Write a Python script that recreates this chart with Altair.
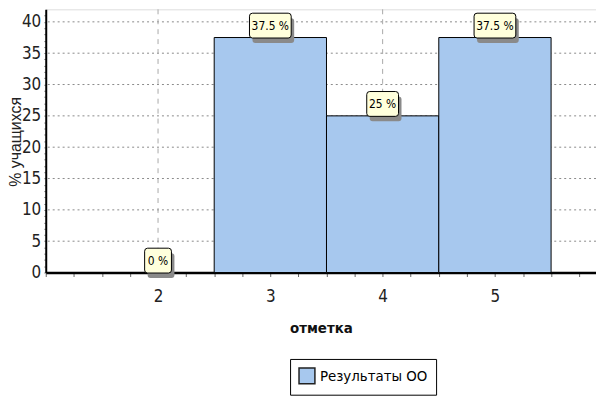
import altair as alt
import pandas as pd

# ---- data ----
marks = [2, 3, 4, 5]                 # отметка
percents = [0, 37.5, 25, 37.5]       # % учащихся
series_name = "Результаты ОО"
y_grid = [5, 10, 15, 20, 25, 30, 35, 40]
x_grid = [2, 4]

NARROW = "'Liberation Sans Narrow', 'Arial Narrow', 'DejaVu Sans Condensed', 'Roboto Condensed', 'Liberation Sans', sans-serif"
BOX_H = 25

def box_path(w, h=BOX_H, r=3):
    s = w / 2.0
    hx, hy = 1.0, h / w
    rx, ry = r / s, r / s
    return (f"M{-hx+rx},{-hy} L{hx-rx},{-hy} Q{hx},{-hy} {hx},{-hy+ry} "
            f"L{hx},{hy-ry} Q{hx},{hy} {hx-rx},{hy} L{-hx+rx},{hy} "
            f"Q{-hx},{hy} {-hx},{hy-ry} L{-hx},{-hy+ry} Q{-hx},{-hy} {-hx+rx},{-hy} Z")

labels = [f"{v:g} %" for v in percents]
widths = [5 * len(t) + 12 for t in labels]

df = pd.DataFrame({
    "mark": marks,
    "pct": percents,
    "label": labels,
    "series": [series_name] * len(marks),
    "path": [box_path(w) for w in widths],
    "sz": [w * w for w in widths],
})
df_gy = pd.DataFrame({"y": y_grid})
df_gx = pd.DataFrame({"x": x_grid})

xscale = alt.Scale(domain=[1, 5.9], nice=False, zero=False)
yscale = alt.Scale(domain=[0, 42], nice=False)

x_ticks = [1 + 0.25 * i for i in range(20)]
y_ticks = list(range(0, 42))

xaxis = alt.Axis(
    values=x_ticks,
    labelExpr="datum.value >= 2 && datum.value % 1 == 0 ? datum.value : ''",
    title="отметка", titleFont=NARROW, titleFontSize=15, titleFontWeight="bold",
    titleColor="#111", titlePadding=16,
    labelFont=NARROW, labelFontSize=17, labelColor="#222", labelPadding=12,
    labelOverlap=False, labelFlush=False,
    tickSize=4, tickColor="#666", domainColor="black", domainWidth=2.5, grid=False,
)
yaxis = alt.Axis(
    values=y_ticks,
    labelExpr="datum.value % 5 == 0 ? datum.value : ''",
    title="% учащихся", titleFont="'Liberation Sans', Arial, sans-serif", titleFontSize=16,
    titleFontWeight="normal", titleColor="#222",
    titleX=-30, titleY=133, titleAngle=270, titleAlign="center", titleBaseline="middle",
    labelFont=NARROW, labelFontSize=17, labelColor="#222", labelPadding=3,
    labelOverlap=False,
    tickSize=2, tickColor="#888", domainColor="black", domainWidth=2, grid=False,
)

base = alt.Chart(df)

hgrid = alt.Chart(df_gy).mark_rule(color="#8a8a8a", strokeDash=[2, 3], strokeWidth=1).encode(
    y=alt.Y("y:Q", scale=yscale, axis=yaxis)
)
vgrid = alt.Chart(df_gx).mark_rule(color="#a8a8a8", strokeDash=[5, 5], strokeWidth=1).encode(
    x=alt.X("x:Q", scale=xscale, axis=xaxis)
)

bars = base.transform_calculate(
    lo="datum.mark - 0.5", hi="datum.mark + 0.5"
).mark_bar(stroke="black", strokeWidth=1, opacity=1).encode(
    x=alt.X("lo:Q", scale=xscale, axis=xaxis),
    x2="hi:Q",
    y=alt.Y("pct:Q", scale=yscale, axis=yaxis),
    y2=alt.datum(0),
    color=alt.Color("series:N",
                    scale=alt.Scale(domain=[series_name], range=["#A7C8EE"]),
                    legend=alt.Legend(
                        title=None, orient="none", legendX=246, legendY=352,
                        symbolType="square", symbolSize=256, symbolStrokeColor="#222",
                        symbolStrokeWidth=1.5, symbolOpacity=1,
                        strokeColor="black", fillColor="white", padding=8,
                        labelFont=NARROW, labelFontSize=15, labelColor="black",
                        labelOffset=4,
                    )),
)

shadow = base.mark_point(filled=True, color="#8a8a8a", opacity=1, xOffset=3, yOffset=-7).encode(
    x=alt.X("mark:Q", scale=xscale, axis=xaxis),
    y=alt.Y("pct:Q", scale=yscale, axis=yaxis),
    shape=alt.Shape("path:N", scale=None),
    size=alt.Size("sz:Q", scale=None),
)
box = base.mark_point(filled=True, fill="#FFFFDC", stroke="black", strokeWidth=1,
                      opacity=1, yOffset=-12).encode(
    x=alt.X("mark:Q", scale=xscale, axis=xaxis),
    y=alt.Y("pct:Q", scale=yscale, axis=yaxis),
    shape=alt.Shape("path:N", scale=None),
    size=alt.Size("sz:Q", scale=None),
)
text = base.mark_text(font=NARROW, fontSize=12, color="black", baseline="middle",
                      yOffset=-12).encode(
    x=alt.X("mark:Q", scale=xscale, axis=xaxis),
    y=alt.Y("pct:Q", scale=yscale, axis=yaxis),
    text="label:N",
)

chart = alt.layer(hgrid, vgrid, bars, shadow, box, text).properties(
    width=554, height=265,
    autosize=alt.AutoSizeParams(type="none"),
    padding={"left": 38, "top": 0, "right": 0, "bottom": 127},
).configure_view(stroke=None).configure(background="white")

chart.save("out.html", embed_options={"renderer": "svg", "actions": False})
